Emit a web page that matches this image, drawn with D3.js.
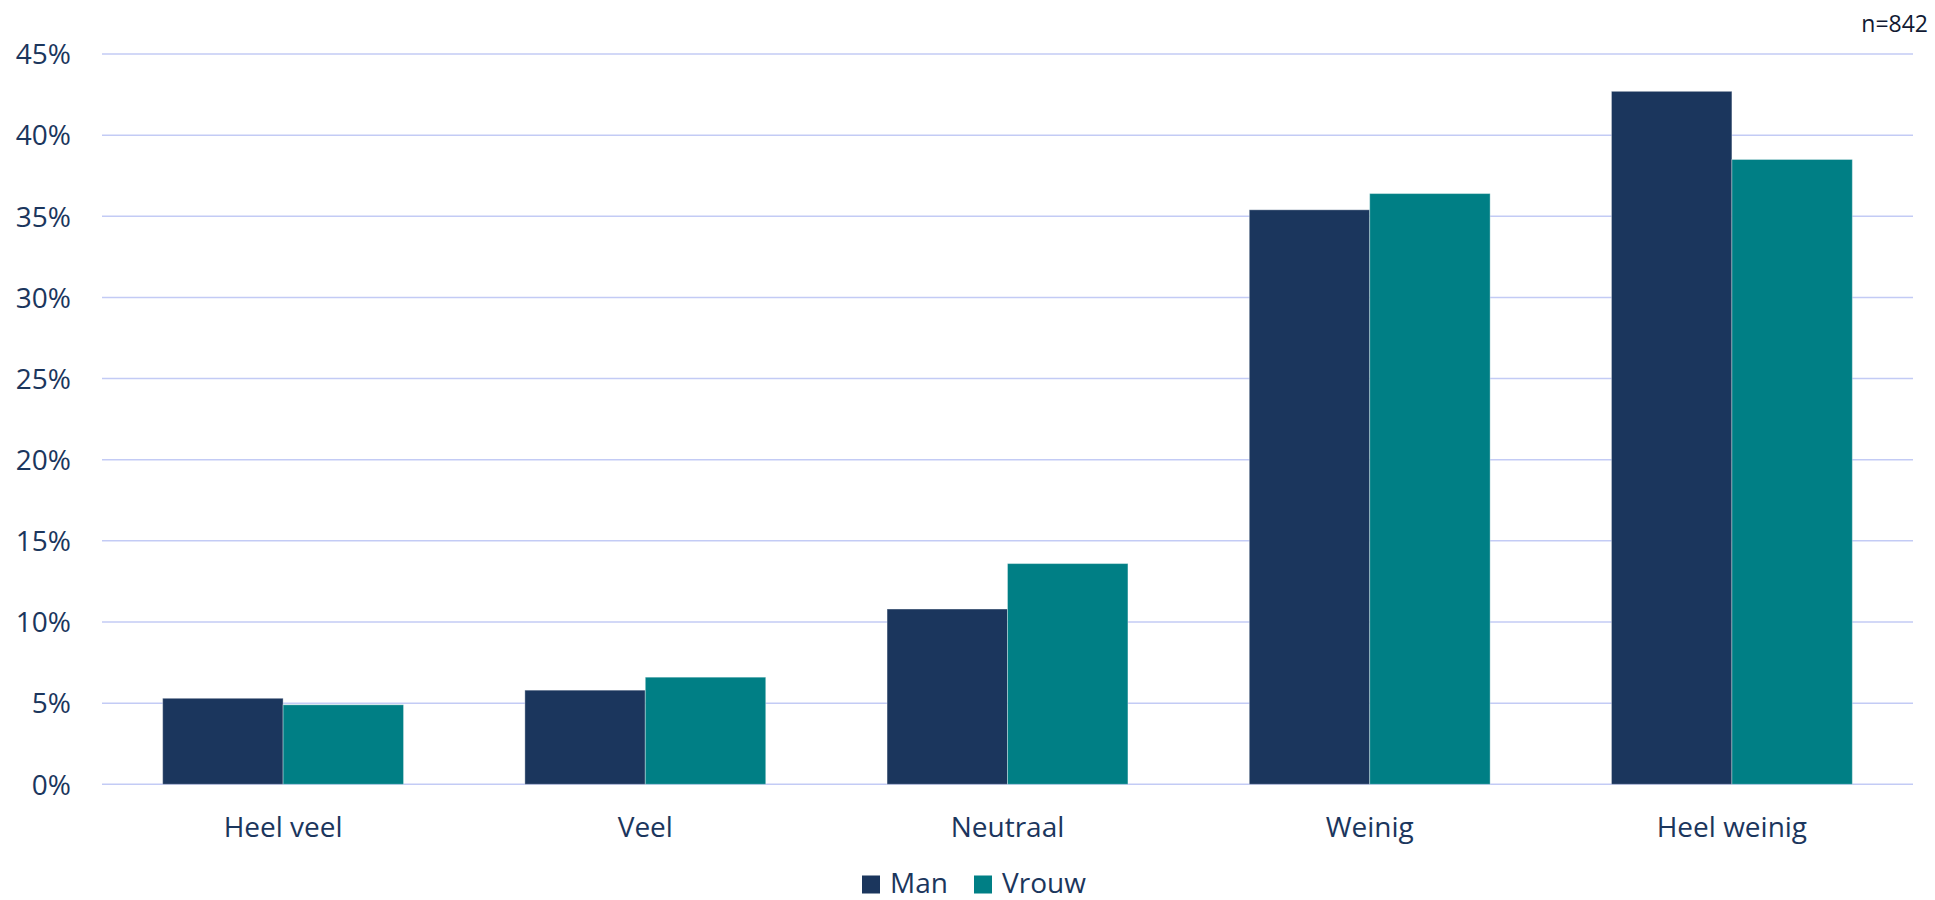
<!DOCTYPE html>
<html>
<head>
<meta charset="utf-8">
<script src="https://cdn.jsdelivr.net/npm/d3@7"></script>
<style>
  html, body { margin: 0; padding: 0; background: #ffffff; }
  svg { display: block; }
</style>
</head>
<body>
<svg id="chart" width="1935" height="900"></svg>
<script>
const categories = ["Heel veel", "Veel", "Neutraal", "Weinig", "Heel weinig"];
const seriesNames = ["Man", "Vrouw"];
const manValues = [5.3, 5.8, 10.8, 35.4, 42.7];
const vrouwValues = [4.9, 6.6, 13.6, 36.4, 38.5];
const yTicks = [0, 5, 10, 15, 20, 25, 30, 35, 40, 45];
const note = "n=842";

const colors = { Man: "#1b365d", Vrouw: "#007f85" };
const textColor = "#1b365d";
const gridColor = "#c3cbf5";
const font = "'Open Sans', 'Noto Sans', sans-serif";

const svg = d3.select("#chart");
const plot = { left: 102, right: 1913, top: 54, bottom: 784.3 };

const x = d3.scaleBand().domain(categories).range([plot.left, plot.right]).paddingInner(0.335).paddingOuter(0.1675);
const xs = d3.scaleBand().domain(seriesNames).range([0, x.bandwidth()]).padding(0);
const y = d3.scaleLinear().domain([0, 45]).range([plot.bottom, plot.top]);

// gridlines
svg.append("g").selectAll("line").data(yTicks).join("line")
  .attr("x1", plot.left).attr("x2", plot.right)
  .attr("y1", d => y(d)).attr("y2", d => y(d))
  .attr("stroke", gridColor).attr("stroke-width", 1.5);

// y axis labels
const yAxis = d3.axisLeft(y).tickValues(yTicks).tickFormat(d => d + "%").tickSize(0).tickPadding(0);
const gy = svg.append("g").attr("transform", `translate(71,0)`).call(yAxis);
gy.select(".domain").remove();
gy.selectAll("text").attr("font-family", font).attr("font-size", 28).attr("fill", textColor).attr("dy", "0.35em");

// bars
const data = categories.map((c, i) => ({ cat: c, Man: manValues[i], Vrouw: vrouwValues[i] }));
const groups = svg.append("g").selectAll("g").data(data).join("g")
  .attr("transform", d => `translate(${x(d.cat)},0)`);
groups.selectAll("rect").data(d => seriesNames.map(s => ({ s, v: d[s] }))).join("rect")
  .attr("x", d => xs(d.s))
  .attr("width", xs.bandwidth())
  .attr("y", d => y(d.v))
  .attr("height", d => y(0) - y(d.v))
  .attr("fill", d => colors[d.s])
  .attr("stroke", "rgba(255,255,255,0.35)")
  .attr("stroke-width", 1);

// x axis labels
const xAxis = d3.axisBottom(x).tickSize(0).tickPadding(0);
const gx = svg.append("g").attr("transform", `translate(0,837)`).call(xAxis);
gx.select(".domain").remove();
gx.selectAll("text").attr("font-family", font).attr("font-size", 28).attr("fill", textColor).attr("dy", 0);

// legend
const legendX = { Man: 862, Vrouw: 974 };
const legend = svg.append("g");
seriesNames.forEach(s => {
  legend.append("rect").attr("x", legendX[s]).attr("y", 875.5).attr("width", 18).attr("height", 18).attr("fill", colors[s]);
  legend.append("text").attr("x", legendX[s] + 28).attr("y", 893)
    .attr("font-family", font).attr("font-size", 28).attr("fill", textColor).text(s);
});

// note
svg.append("text").attr("x", 1928).attr("y", 32).attr("text-anchor", "end")
  .attr("font-family", font).attr("font-size", 23).attr("fill", "#111a33").text(note);
</script>
</body>
</html>
